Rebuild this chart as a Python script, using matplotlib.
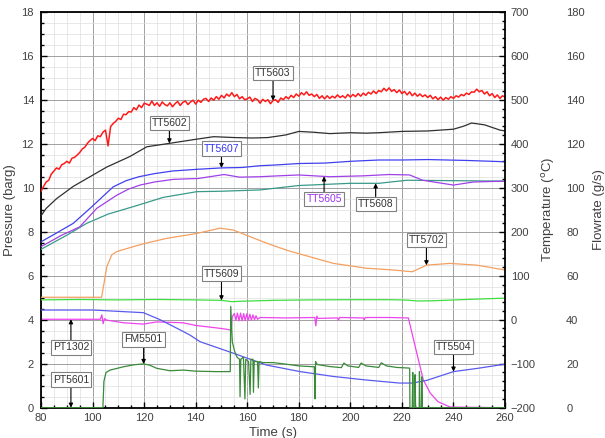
import numpy as np
import matplotlib.pyplot as plt
from matplotlib.ticker import MultipleLocator, AutoMinorLocator

plt.rcParams['font.family'] = ['Liberation Sans', 'DejaVu Sans']

# ---- data ----
# TT5603 (degC), one reading per second from 80 s to 260 s
tt5603_time = np.arange(80, 261)
tt5603 = [292, 303, 313, 317, 331, 338, 345, 342, 352, 355,
          360, 356, 367, 369, 374, 380, 388, 392, 401, 407,
          412, 407, 418, 416, 426, 431, 395, 439, 446, 451,
          458, 455, 467, 466, 473, 472, 482, 477, 488, 482,
          492, 490, 487, 497, 487, 493, 485, 495, 489, 486,
          493, 484, 491, 496, 487, 494, 497, 489, 495, 499,
          490, 499, 494, 501, 503, 496, 504, 499, 507, 501,
          510, 504, 513, 508, 516, 507, 512, 502, 507, 500,
          502, 506, 496, 503, 500, 492, 501, 496, 500, 491,
          498, 500, 494, 504, 500, 507, 502, 510, 505, 513,
          508, 516, 511, 518, 510, 513, 507, 512, 503, 509,
          502, 509, 503, 508, 504, 511, 505, 509, 504, 512,
          506, 512, 507, 514, 508, 515, 510, 517, 513, 520,
          514, 521, 518, 526, 520, 527, 519, 523, 516, 522,
          514, 519, 511, 518, 509, 515, 508, 513, 507, 511,
          505, 510, 502, 507, 500, 506, 499, 505, 501, 507,
          503, 509, 506, 512, 509, 515, 512, 518, 517, 524,
          518, 521, 513, 518, 509, 514, 505, 511, 503, 509,
          506]

tt5602_time = [80, 82, 86, 92.5, 99, 105.5, 114.5, 121, 130, 140, 147, 155, 162, 168, 175, 180,
               186, 192, 200, 206, 211, 220, 230, 240, 244, 247, 252, 258, 260]
tt5602 = [236, 253, 275, 303, 325, 347, 371, 393, 401, 410, 416, 414, 413, 414, 420, 428,
          426, 423, 425, 424, 425, 428, 429, 433, 440, 447, 443, 431, 429]

tt5607_time = [80, 86, 92.5, 99, 108, 113, 118, 124, 131, 141, 150, 158, 165, 172, 180, 190,
               200, 211, 220, 230, 245, 260]
tt5607 = [177, 197, 219, 253, 302, 316, 325, 332, 338, 342, 345, 346, 350, 352, 355, 356,
          360, 363, 363, 364, 362, 359]

tt5605_time = [80, 88, 95, 101.6, 109.4, 114, 118.4, 124, 131.3, 141, 151, 157, 165, 172, 180,
               192, 205, 215, 223, 228, 240, 247.7, 260]
tt5605 = [166, 192, 211, 253, 283, 297, 306, 313, 319, 321, 330, 324, 325, 327, 329,
          325, 327, 330, 329, 317, 306, 313, 315]

tt5608_time = [80, 90, 97.7, 106, 115.8, 127.4, 140.4, 150, 165, 180, 200, 211, 222, 240, 260]
tt5608 = [160, 192, 219, 240, 257, 278, 291, 292, 295, 305, 310, 310, 317, 316, 315]

tt5702_time = [80, 103.5, 104.5, 105.5, 107.4, 109.4, 115.8, 120, 128.8, 140.4, 149.4, 154.5,
               161, 167.5, 175.3, 184.3, 193.4, 206.3, 216.6, 224, 229.6, 238.6, 249, 260]
tt5702 = [51, 51, 85, 120, 147, 155, 166, 173, 185, 196, 208, 204,
          189, 174, 158, 143, 128, 117, 113, 109, 124, 128, 124, 113]

tt5609_time = [80, 95, 110, 125, 140, 150, 154, 158, 170, 185, 200, 215, 222, 226, 232, 245, 260]
tt5609 = [45, 46, 45, 46, 45, 44, 41, 42, 44, 45, 45.5, 45.5, 44.5, 42.5, 43, 46, 49]

tt5504_time = [80, 100, 119.7, 126.2, 133.9, 137.8, 141.7, 154.5, 167.4, 180.5, 193.4, 206,
               219, 224, 229.6, 240, 250, 260]
tt5504 = [22, 22, 16, 0, -23, -35, -50, -76, -103, -118, -129, -137,
          -144, -144, -138, -118, -110, -101]

# pressures (barg)
pt1302_time = [80, 103, 103.6, 104.1, 104.6, 105.5, 112, 119.7, 124.9, 135, 140, 150, 153.8,
               154.2, 155.0, 155.6, 156.2, 156.8, 157.4, 158.0, 158.6, 159.2, 159.8, 160.4,
               161.0, 161.6, 162.2, 162.8, 163.4, 164.0, 165, 175, 186.2, 186.6, 187.0,
               187.4, 195, 195.4, 195.8, 205, 205.4, 205.8, 215, 222.5, 224.4, 226.4,
               228.3, 231, 234, 238.7, 260]
pt1302 = [4.02, 4.02, 4.22, 3.82, 4.05, 3.98, 3.86, 3.8, 3.9, 3.86, 3.74, 3.6, 3.53,
          4.14, 4.28, 3.98, 4.3, 3.95, 4.3, 3.95, 4.28, 3.96, 4.27, 3.97,
          4.25, 3.98, 4.22, 4.0, 4.18, 4.02, 4.1, 4.08, 4.1, 3.72, 4.16,
          4.06, 4.08, 3.98, 4.1, 4.08, 3.99, 4.1, 4.1, 4.08, 3.15, 2.17,
          1.26, 0.66, 0.27, 0.03, 0.0]

pt5601_time = [80, 260]
pt5601 = [0.0, 0.0]

# flowrate (g/s)
fm5501_time = [80, 104, 104.4, 105.2, 106.8, 112, 116, 119.7, 122, 124.9, 130, 135.2, 140, 148,
               153.4, 153.6, 154.2, 155, 156, 157.0, 157.2, 157.5, 158.5, 159.1, 159.4,
               160.5, 161.1, 161.4, 162.2, 162.4, 162.7, 164.0, 164.3, 164.6, 166, 170,
               175, 180, 186, 186.3, 186.5, 187.2, 192, 196.5, 197.5, 199, 203.2, 204.2,
               206, 211, 212, 214, 218, 223, 223.1, 224.0, 224.2, 224.4, 225.0, 225.1,
               225.3, 226.7, 226.8, 227.0, 227.6, 227.7, 227.9, 260]
fm5501 = [0, 0, 12, 16, 17.1, 18.6, 19.5, 19.9, 19.4, 17.9, 16.8, 17.1, 16.6, 16.4,
          16.4, 46, 30, 26, 23, 22, 5, 22, 23, 4, 22,
          21, 6, 22, 22, 7, 21, 21, 9, 21, 20.5, 20.5,
          19.8, 19, 18.6, 4, 21, 19.6, 18.7, 18.2, 20.3, 19.0, 18.3, 20.3,
          19.0, 18.3, 20.4, 19.0, 18.3, 18.0, 0, 0, 16, 0, 0, 15,
          0, 0, 16.4, 0, 0, 14, 0, 0]

# label boxes: (name, series axis, box x, box y, tip x, text colour)
labels = [
    ('TT5603', 'T', 170.0, 560, 170.0, '#333333'),
    ('TT5602', 'T', 129.8, 448, 129.8, '#333333'),
    ('TT5607', 'T', 150.0, 389, 150.0, '#3333ee'),
    ('TT5605', 'T', 189.8, 274, 189.8, '#9933ee'),
    ('TT5608', 'T', 209.8, 263, 209.8, '#333333'),
    ('TT5702', 'T', 229.5, 182, 229.5, '#333333'),
    ('TT5609', 'T', 150.0, 105, 150.0, '#333333'),
    ('TT5504', 'T', 240.0, -62, 240.0, '#333333'),
    ('PT1302', 'P', 91.6, 2.74, 91.6, '#333333'),
    ('PT5601', 'P', 91.6, 1.28, 91.6, '#333333'),
    ('FM5501', 'F', 119.8, 31, 119.8, '#333333'),
]

# ---- figure ----
fig = plt.figure(figsize=(6.05, 4.38), dpi=100)
ax = fig.add_axes([0.0678, 0.0692, 0.767, 0.904])
tax = ax.twinx()
fax = ax.twinx()

ax.set_xlim(80, 260)
ax.set_ylim(0, 18)
tax.set_ylim(-200, 700)
fax.set_ylim(0, 180)

lw = 0.9
ax.plot(pt5601_time, pt5601, color='#555555', lw=lw)
ax.plot(pt1302_time, pt1302, color='#ee44ee', lw=lw)
tax.plot(tt5608_time, tt5608, color='#3a9a8a', lw=lw)
tax.plot(tt5605_time, tt5605, color='#a040e8', lw=lw)
tax.plot(tt5607_time, tt5607, color='#4040f0', lw=lw)
tax.plot(tt5602_time, tt5602, color='#303030', lw=lw)
tax.plot(tt5603_time, tt5603, color='#ff1a1a', lw=1.1)
tax.plot(tt5702_time, tt5702, color='#f4a060', lw=lw)
tax.plot(tt5609_time, tt5609, color='#40dd40', lw=lw)
tax.plot(tt5504_time, tt5504, color='#5a5aee', lw=lw)
fax.plot(fm5501_time, fm5501, color='#3a8a3a', lw=lw)

series = {
    'TT5603': (tt5603_time, tt5603), 'TT5602': (tt5602_time, tt5602),
    'TT5607': (tt5607_time, tt5607), 'TT5605': (tt5605_time, tt5605),
    'TT5608': (tt5608_time, tt5608), 'TT5702': (tt5702_time, tt5702),
    'TT5609': (tt5609_time, tt5609), 'TT5504': (tt5504_time, tt5504),
    'PT1302': (pt1302_time, pt1302), 'PT5601': (pt5601_time, pt5601),
    'FM5501': (fm5501_time, fm5501),
}
axes_for = {'T': tax, 'P': ax, 'F': fax}
for name, which, bx, by, tx, tcol in labels:
    st, sv = series[name]
    ty = np.interp(tx, st, sv)
    tr = axes_for[which].transData
    fax.annotate(name, xy=(tx, ty), xycoords=tr, xytext=(bx, by), textcoords=tr,
                 ha='center', va='center', fontsize=7.5, color=tcol, zorder=10,
                 bbox=dict(boxstyle='square,pad=0.2', fc='white', ec='#808080', lw=0.8),
                 arrowprops=dict(arrowstyle='-|>', color='black', lw=0.8,
                                 mutation_scale=6, shrinkA=0, shrinkB=0))

# grid
ax.xaxis.set_major_locator(MultipleLocator(20))
ax.xaxis.set_minor_locator(MultipleLocator(5))
ax.yaxis.set_major_locator(MultipleLocator(2))
ax.yaxis.set_minor_locator(MultipleLocator(0.5))
ax.grid(which='major', color='#a0a0a0', lw=0.7)
ax.grid(which='minor', color='#dedede', lw=0.5)
ax.set_axisbelow(True)

tax.yaxis.set_major_locator(MultipleLocator(100))
tax.yaxis.set_minor_locator(AutoMinorLocator(5))
fax.yaxis.set_major_locator(MultipleLocator(20))

txtc = '#404040'
ax.tick_params(which='both', direction='in', top=False, right=False, labelsize=8,
               labelcolor=txtc, width=1.0)
ax.tick_params(which='major', length=4)
ax.tick_params(which='minor', length=2.5)
ax.tick_params(axis='x', pad=4)
ax.tick_params(axis='y', pad=5)
tax.tick_params(which='both', direction='in', labelsize=8, labelcolor=txtc, width=1.0, pad=4)
tax.tick_params(which='major', length=4)
tax.tick_params(which='minor', length=2.5)
fax.tick_params(axis='y', length=0, labelsize=8, labelcolor=txtc, pad=2)
fax.spines['right'].set_position(('outward', 42))
for sp in fax.spines.values():
    sp.set_visible(False)
for s in ['left', 'bottom', 'top']:
    tax.spines[s].set_visible(False)
    ax.spines[s].set_linewidth(1.3)
tax.spines['right'].set_linewidth(1.3)
ax.spines['right'].set_visible(False)

ax.set_xlabel('Time (s)', fontsize=9.5, color=txtc)
ax.set_ylabel('Pressure (barg)', fontsize=9.5, color=txtc)
tax.set_ylabel('Temperature ($^\\mathrm{o}$C)', fontsize=9.5, color=txtc)
fax.set_ylabel('Flowrate (g/s)', fontsize=9.5, color=txtc)
ax.xaxis.set_label_coords(0.5, -0.049)
ax.yaxis.set_label_coords(-0.054, 0.5)
tax.yaxis.set_label_coords(1.075, 0.5)
fax.yaxis.set_label_coords(1.19, 0.5)

fig.savefig('out.png', dpi=100)
